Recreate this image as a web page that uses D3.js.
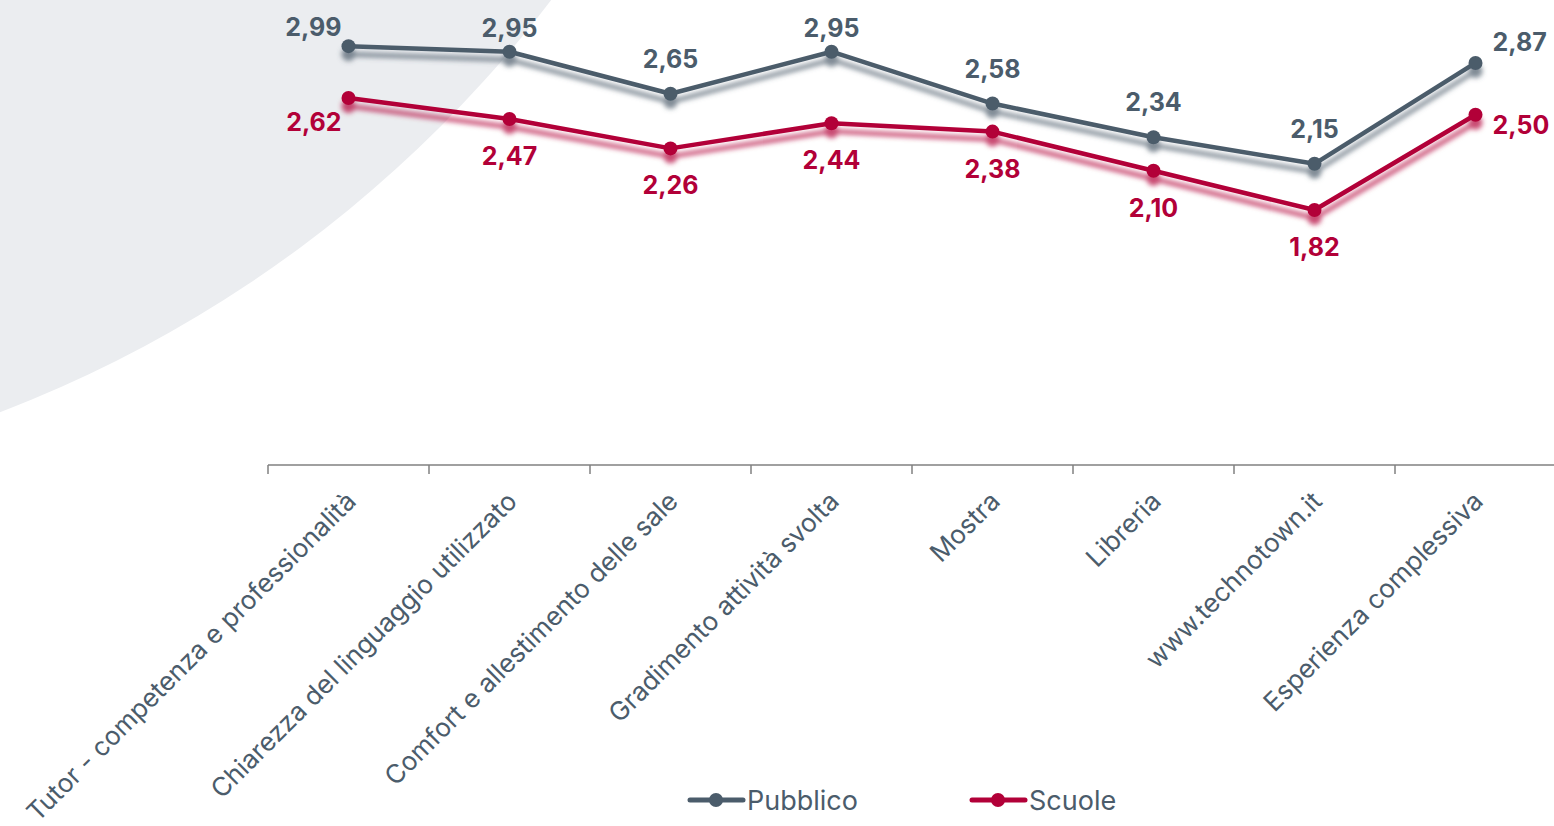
<!DOCTYPE html>
<html><head><meta charset="utf-8">
<script src="https://cdn.jsdelivr.net/npm/d3@7/dist/d3.min.js"></script>
<style>html,body{margin:0;padding:0;background:#fff;overflow:hidden}</style>
</head><body>
<svg id="chart" width="1554" height="826"></svg>
<script>
const categories = ["Tutor - competenza e professionalità","Chiarezza del linguaggio utilizzato","Comfort e allestimento delle sale","Gradimento attività svolta","Mostra","Libreria","www.technotown.it","Esperienza complessiva"];
const pubblico = [2.99, 2.95, 2.65, 2.95, 2.58, 2.34, 2.15, 2.87];
const scuole = [2.62, 2.47, 2.26, 2.44, 2.38, 2.10, 1.82, 2.50];
const pubblicoLabelPos = ["left","above","above","above","above","above","above","right"];
const scuoleLabelPos = ["left","below","below","below","below","below","below","right"];
const seriesNames = ["Pubblico","Scuole"];

const colors = {Pubblico:"#4b5c6b", Scuole:"#b20038"};
const textColor = "#4b5c6b";
const font = "Inter, sans-serif";

const svg = d3.select("#chart");

// background arc
svg.append("circle").attr("cx",-449).attr("cy",-763).attr("r",1258).attr("fill","#ebedf0");

const defs = svg.append("defs");
seriesNames.forEach(n=>{
  const f = defs.append("filter").attr("id","sh-"+n).attr("x","-10%").attr("y","-30%").attr("width","120%").attr("height","180%");
  f.append("feDropShadow").attr("dx",0).attr("dy",8).attr("stdDeviation",2.8)
    .attr("flood-color",colors[n]).attr("flood-opacity",0.7);
});

const x = d3.scaleBand().domain(categories).range([268,1556]).paddingInner(0).paddingOuter(0);
const cx = c => x(c) + x.bandwidth()/2;
const y = d3.scaleLinear().domain([0,3.3]).range([465,2.7]);

// axis
const axisG = svg.append("g").attr("transform","translate(0,465)");
axisG.append("line").attr("x1",268).attr("x2",1556).attr("y1",0).attr("y2",0).attr("stroke","#808080").attr("stroke-width",1.5);
axisG.selectAll(".tk").data(categories).join("line")
  .attr("x1",d=>x(d)).attr("x2",d=>x(d)).attr("y1",0).attr("y2",9)
  .attr("stroke","#808080").attr("stroke-width",1.5);
svg.append("g").selectAll("text").data(categories).join("text")
  .attr("transform",d=>`translate(${cx(d)+9},503) rotate(-45)`)
  .attr("text-anchor","end")
  .attr("font-family",font).attr("font-size",26).attr("fill",textColor)
  .text(d=>d);

const line = d3.line().x(d=>cx(d.c)).y(d=>y(d.v));
const seriesData = [
  {name:"Pubblico", values:pubblico, pos:pubblicoLabelPos},
  {name:"Scuole", values:scuole, pos:scuoleLabelPos}
];
seriesData.forEach(s=>{
  const pts = s.values.map((v,i)=>({c:categories[i], v, pos:s.pos[i]}));
  const g = svg.append("g").attr("filter",`url(#sh-${s.name})`);
  g.append("path").datum(pts).attr("d",line).attr("fill","none")
    .attr("stroke",colors[s.name]).attr("stroke-width",4.5).attr("stroke-linejoin","round");
  g.selectAll("circle").data(pts).join("circle")
    .attr("cx",d=>cx(d.c)).attr("cy",d=>y(d.v)).attr("r",7).attr("fill",colors[s.name]);
  svg.append("g").selectAll("text").data(pts).join("text")
    .attr("font-family",font).attr("font-weight","bold").attr("font-size",25)
    .attr("fill",colors[s.name])
    .attr("text-anchor",d=>d.pos==="left"?"end":d.pos==="right"?"start":"middle")
    .attr("x",d=>d.pos==="left"?cx(d.c)-7:d.pos==="right"?cx(d.c)+17:cx(d.c))
    .attr("y",d=>{
      const py=y(d.v);
      if(d.pos==="above") return Math.max(py-35,28)+9;
      if(d.pos==="below") return py+37+9;
      if(d.pos==="left") return s.name==="Pubblico"? py-19+9 : py+24+9;
      return s.name==="Pubblico"? py-21+9 : py+10+9;
    })
    .text(d=>d3.format(".2f")(d.v).replace(".",","));
});

// legend
const legend = [{name:"Pubblico", x:688},{name:"Scuole", x:970}];
const lg = svg.append("g");
legend.forEach(l=>{
  lg.append("line").attr("x1",l.x+2).attr("x2",l.x+55).attr("y1",800).attr("y2",800)
    .attr("stroke",colors[l.name]).attr("stroke-width",5).attr("stroke-linecap","round");
  lg.append("circle").attr("cx",l.x+28).attr("cy",800).attr("r",7).attr("fill",colors[l.name]);
  lg.append("text").attr("x",l.x+59).attr("y",810).attr("font-family",font).attr("font-size",27)
    .attr("fill",textColor).text(l.name);
});
</script>
</body></html>
